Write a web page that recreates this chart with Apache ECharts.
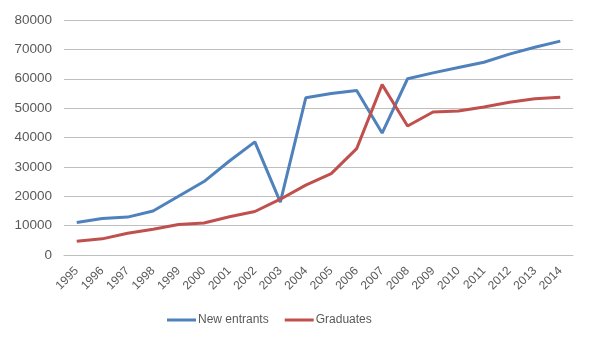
<!DOCTYPE html>
<html>
<head>
<meta charset="utf-8">
<script src="https://cdn.jsdelivr.net/npm/echarts@6/dist/echarts.min.js"></script>
<style>
  html, body { margin: 0; padding: 0; background: #fff; }
  #chart { width: 593px; height: 344px; }
</style>
</head>
<body>
<div id="chart"></div>
<script>
// Years on the category axis
const years = ['1995','1996','1997','1998','1999','2000','2001','2002','2003','2004',
               '2005','2006','2007','2008','2009','2010','2011','2012','2013','2014'];

// Yearly counts
const newEntrants = [11100, 12400, 12900, 15000, 20000, 25000, 32000, 38500, 18000, 53500,
                     55000, 56000, 41500, 60000, 62000, 63800, 65600, 68400, 70700, 72800];
const graduates   = [4700, 5500, 7400, 8800, 10400, 10900, 13000, 14800, 19000, 23800,
                     27700, 36200, 58000, 43900, 48700, 49000, 50400, 52000, 53200, 53700];

const labelColor = '#595959';
const fontFamily = '"Liberation Sans", Arial, sans-serif';

const chart = echarts.init(document.getElementById('chart'));
chart.setOption({
  animation: false,
  backgroundColor: '#ffffff',
  grid: { left: 64, right: 20, top: 20, bottom: 89, containLabel: false },
  legend: {
    bottom: 13,
    left: 162,
    icon: 'rect',
    itemWidth: 29,
    itemHeight: 3,
    itemGap: 16,
    textStyle: { color: labelColor, fontSize: 12, fontFamily: fontFamily, padding: [0, 0, 0, -3] },
    data: ['New entrants', 'Graduates']
  },
  xAxis: {
    type: 'category',
    data: years,
    boundaryGap: true,
    axisLine: { show: true, lineStyle: { color: '#BFBFBF', width: 1 } },
    axisTick: { show: false },
    axisLabel: { rotate: 45, margin: 14, color: labelColor, fontSize: 12, fontFamily: fontFamily, interval: 0 }
  },
  yAxis: {
    type: 'value',
    min: 0,
    max: 80000,
    interval: 10000,
    axisLine: { show: false },
    axisTick: { show: false },
    splitLine: { lineStyle: { color: '#BFBFBF', width: 1 } },
    axisLabel: {
      margin: 12,
      color: labelColor,
      fontSize: 13.5,
      fontFamily: fontFamily,
      formatter: function (v) { return String(v); }
    }
  },
  series: [
    {
      name: 'New entrants',
      type: 'line',
      data: newEntrants,
      symbol: 'none',
      lineStyle: { color: '#4F81BD', width: 3 },
      itemStyle: { color: '#4F81BD' }
    },
    {
      name: 'Graduates',
      type: 'line',
      data: graduates,
      symbol: 'none',
      lineStyle: { color: '#C0504D', width: 3 },
      itemStyle: { color: '#C0504D' }
    }
  ]
});
</script>
</body>
</html>
